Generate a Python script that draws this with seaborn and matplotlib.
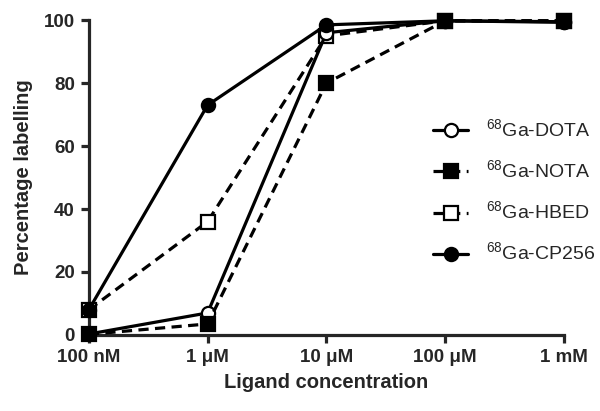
import matplotlib
matplotlib.use('Agg')
import matplotlib.pyplot as plt
import seaborn as sns
import pandas as pd

# 数据
conc_log = [-7, -6, -5, -4, -3]
tick_labels = ['100 nM', '1 \u03bcM', '10 \u03bcM', '100 \u03bcM', '1 mM']
series_names = ['$^{68}$Ga-DOTA', '$^{68}$Ga-NOTA', '$^{68}$Ga-HBED', '$^{68}$Ga-CP256']
dota = [0.3, 7, 96, 99.8, 99.5]
nota = [0.2, 3.5, 80, 99.8, 99.8]
hbed = [8, 36, 95, 99.8, 99.8]
cp256 = [8, 73, 98.5, 99.8, 99.3]

sns.set_style('ticks')
plt.rcParams['font.family'] = ['Liberation Sans', 'DejaVu Sans']
plt.rcParams['mathtext.fontset'] = 'custom'
plt.rcParams['mathtext.rm'] = 'Liberation Sans'

fig = plt.figure(figsize=(6, 4.11), dpi=100)
ax = fig.add_axes([0.148, 0.185, 0.792, 0.766])

# (数据, 标记, 填充色, 虚线, 名称, 图层顺序)
styles = [
    (dota, 'o', 'white', None, series_names[0], 4),
    (nota, 's', 'black', (3.2, 2.0), series_names[1], 5),
    (hbed, 's', 'white', (3.2, 2.0), series_names[2], 3),
    (cp256, 'o', 'black', None, series_names[3], 6),
]
for vals, mk, fc, dash, name, z in styles:
    df = pd.DataFrame({'x': conc_log, 'y': vals})
    sns.lineplot(data=df, x='x', y='y', ax=ax, color='black', lw=2.3,
                 marker=mk, markersize=10.5 if mk == 's' else 9.5,
                 markerfacecolor=fc, markeredgecolor='black', markeredgewidth=1.6,
                 label=name, clip_on=False, zorder=z)
    if dash is not None:
        ax.lines[-1].set_dashes(dash)

ax.set_xlim(-7, -3)
ax.set_ylim(0, 100)
ax.set_xticks(conc_log)
ax.set_xticklabels(tick_labels)
ax.set_yticks([0, 20, 40, 60, 80, 100])
for s in ['top', 'right']:
    ax.spines[s].set_visible(False)
for s in ['left', 'bottom']:
    ax.spines[s].set_linewidth(2.3)
ax.tick_params(width=2.3, length=6, labelsize=13.5, pad=4)
for t in ax.get_xticklabels() + ax.get_yticklabels():
    t.set_fontweight('bold')
ax.set_xlabel('Ligand concentration', fontsize=14.5, fontweight='bold', labelpad=5)
ax.set_ylabel('Percentage labelling', fontsize=14.5, fontweight='bold', labelpad=8)

leg = ax.legend(loc='center left', bbox_to_anchor=(0.722, 0.534), bbox_transform=fig.transFigure,
                frameon=False, fontsize=14, handlelength=1.8, labelspacing=0.95,
                handletextpad=0.9, borderpad=0, borderaxespad=0)

fig.savefig('out.png', dpi=100)
